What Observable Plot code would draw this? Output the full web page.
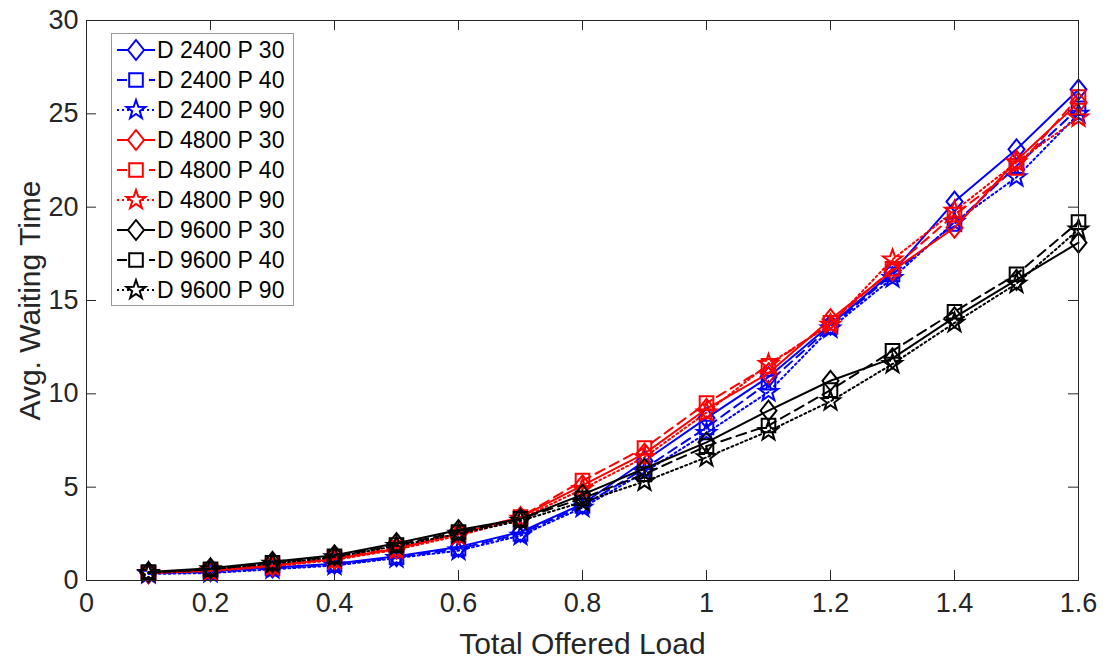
<!DOCTYPE html>
<html><head><meta charset="utf-8">
<script src="https://cdn.jsdelivr.net/npm/d3@7"></script>
<script src="https://cdn.jsdelivr.net/npm/@observablehq/plot@0.6"></script>
<style>body{margin:0;background:#fff;}</style>
</head><body><div id="chart"></div>
<script>
// ---- data ----
const loads = [0.1,0.2,0.3,0.4,0.5,0.6,0.7,0.8,0.9,1.0,1.1,1.2,1.3,1.4,1.5,1.6];
const d2400p30 = [0.4,0.5,0.7,0.9,1.3,1.8,2.6,4.1,6.4,8.7,10.9,13.7,16.5,20.3,23.1,26.3];
const d2400p40 = [0.4,0.45,0.65,0.85,1.25,1.7,2.5,4.0,6.0,8.2,10.6,13.6,16.4,19.1,22.2,25.3];
const d2400p90 = [0.35,0.4,0.6,0.8,1.2,1.6,2.4,3.9,5.8,7.9,10.1,13.5,16.2,19.2,21.6,25.0];
const d4800p30 = [0.4,0.55,0.8,1.15,1.7,2.5,3.4,5.1,6.8,9.2,11.1,14.0,16.6,18.9,22.5,25.6];
const d4800p40 = [0.4,0.55,0.8,1.2,1.75,2.5,3.4,5.35,7.1,9.5,11.5,13.8,16.7,19.6,22.1,25.9];
const d4800p90 = [0.4,0.5,0.75,1.1,1.65,2.4,3.3,4.9,6.6,9.0,11.6,13.7,17.2,19.8,22.4,24.8];
const d9600p30 = [0.45,0.65,1.0,1.35,2.0,2.7,3.3,4.6,6.0,7.4,9.1,10.7,11.9,14.1,16.1,18.1];
const d9600p40 = [0.45,0.6,0.95,1.3,1.9,2.6,3.3,4.4,5.7,7.2,8.3,10.2,12.3,14.4,16.4,19.2];
const d9600p90 = [0.4,0.6,0.9,1.25,1.85,2.5,3.2,4.2,5.3,6.6,8.0,9.6,11.6,13.8,15.9,18.8];
const seriesNames = ["D 2400 P 30","D 2400 P 40","D 2400 P 90","D 4800 P 30","D 4800 P 40","D 4800 P 90","D 9600 P 30","D 9600 P 40","D 9600 P 90"];
const seriesValues = [d2400p30,d2400p40,d2400p90,d4800p30,d4800p40,d4800p90,d9600p30,d9600p40,d9600p90];
const xTicks = [0,0.2,0.4,0.6,0.8,1,1.2,1.4,1.6];
const yTicks = [0,5,10,15,20,25,30];
const xLabel = "Total Offered Load";
const yLabel = "Avg. Waiting Time";

// ---- styles ----
const colors = ["#0000ff","#ff0000","#000000"];
const dashes = [null, "10,6", "2,3"];
const diamond = {draw(ctx, size){ const r = Math.sqrt(size/Math.PI); ctx.moveTo(0,-r*1.25); ctx.lineTo(r,0); ctx.lineTo(0,r*1.25); ctx.lineTo(-r,0); ctx.closePath(); }};
const square = {draw(ctx, size){ const r = Math.sqrt(size/Math.PI)*0.85; ctx.rect(-r,-r,2*r,2*r); }};
const star = {draw(ctx, size){ const R = Math.sqrt(size/Math.PI)*1.25, ri = R*0.4;
  for (let i=0;i<10;i++){ const a = -Math.PI/2 + i*Math.PI/5; const rr = i%2?ri:R; const px = rr*Math.cos(a), py = rr*Math.sin(a); if(i===0) ctx.moveTo(px,py); else ctx.lineTo(px,py);} ctx.closePath(); }};
const symbols = [diamond, square, star];

const series = seriesNames.map((name,i) => ({
  name, color: colors[Math.floor(i/3)], dash: dashes[i%3], symbol: symbols[i%3],
  data: loads.map((x,j) => ({x, y: seriesValues[i][j]}))
}));

const W=1113, H=659, mL=86, mR=35, mT=20, mB=79;
const pw = W-mL-mR, ph = H-mT-mB;
const tickLen = 10;
const ink = "#262626";
const font = "'Liberation Sans', Arial, Helvetica, sans-serif";

const marks = [
  Plot.axisX(xTicks, {tickSize:0, tickPadding:12, fontSize:27, fill:ink, tickFormat: d => String(d), label:null}),
  Plot.axisY(yTicks, {tickSize:0, tickPadding:8, fontSize:27, fill:ink, label:null}),
  Plot.tickX(xTicks, {x:d=>d, insetTop: ph-tickLen, stroke:ink}),
  Plot.tickX(xTicks, {x:d=>d, insetBottom: ph-tickLen, stroke:ink}),
  Plot.tickY(yTicks, {y:d=>d, insetRight: pw-tickLen, stroke:ink}),
  Plot.tickY(yTicks, {y:d=>d, insetLeft: pw-tickLen, stroke:ink}),
];
for (const s of series) {
  marks.push(Plot.line(s.data, {x:"x", y:"y", stroke:s.color, strokeWidth:2, strokeDasharray:s.dash}));
  marks.push(Plot.dot(s.data, {x:"x", y:"y", stroke:s.color, fill:"none", strokeWidth:2, r:8, symbol:s.symbol}));
}
marks.push(Plot.frame({stroke:ink}));
marks.push(Plot.text([xLabel], {text:d=>d, frameAnchor:"bottom", textAnchor:"middle", lineAnchor:"middle", dy:64, fontSize:30, fill:ink}));
marks.push(Plot.text([yLabel], {text:d=>d, frameAnchor:"left", textAnchor:"middle", lineAnchor:"middle", dx:-56, rotate:-90, fontSize:30, fill:ink}));

const svg = Plot.plot({
  width:W, height:H, marginLeft:mL, marginRight:mR, marginTop:mT, marginBottom:mB,
  style:{fontFamily:font, background:"#fff", color:ink, overflow:"visible"},
  x:{domain:[0,1.6]}, y:{domain:[0,30]},
  marks
});
document.getElementById("chart").appendChild(svg);

// ---- legend ----
const g = d3.select(svg).append("g").attr("text-anchor","start");
g.append("rect").attr("x",111.5).attr("y",33.5).attr("width",182).attr("height",272)
  .attr("fill","#fff").attr("stroke","#999").attr("stroke-width",1);
series.forEach((s,i) => {
  const cy = 50 + i*30;
  g.append("line").attr("x1",117).attr("x2",155).attr("y1",cy).attr("y2",cy)
    .attr("stroke",s.color).attr("stroke-width",2).attr("stroke-dasharray", s.dash);
  g.append("path").attr("d", d3.symbol(s.symbol, Math.PI*64)()).attr("transform",`translate(136,${cy})`)
    .attr("fill","#fff").attr("stroke",s.color).attr("stroke-width",2);
  g.append("text").attr("x",157).attr("y",cy).attr("dy","0.35em").attr("font-size",23)
    .attr("text-anchor","start").attr("font-family",font).attr("fill","#000").text(s.name);
});
</script>
</body></html>
